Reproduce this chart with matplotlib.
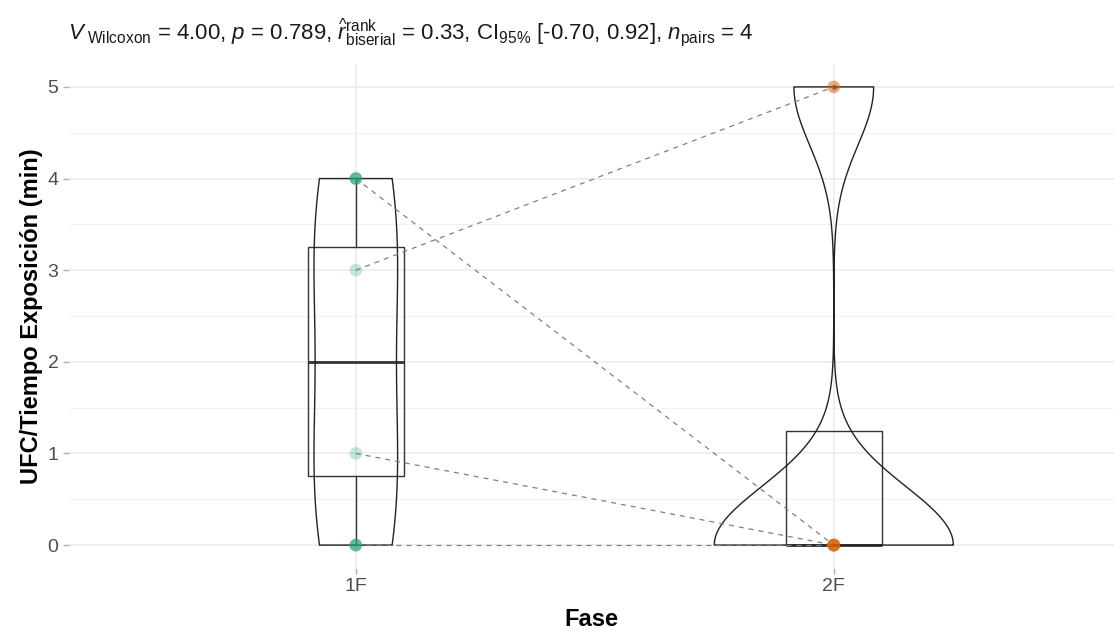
import numpy as np
import matplotlib
matplotlib.use("Agg")
import matplotlib.pyplot as plt

plt.rcParams['font.family'] = ['Liberation Sans', 'DejaVu Sans']
plt.rcParams['mathtext.fontset'] = 'custom'
plt.rcParams['mathtext.rm'] = 'Liberation Sans'
plt.rcParams['mathtext.it'] = 'Liberation Sans:italic'
plt.rcParams['mathtext.bf'] = 'Liberation Sans:bold'

# data (paired by position)
phases = ["1F", "2F"]
fase_1f = [4, 3, 1, 0]
fase_2f = [0, 5, 0, 0]
point_alpha_1f = [0.7, 0.25, 0.25, 0.7]
colors = ["#1B9E77", "#D95F02"]

title = (r"$\mathit{V}_{\ \mathrm{Wilcoxon}}$ = 4.00, $\mathit{p}$ = 0.789, "
         r"$\widehat{\mathit{r}}_{\mathrm{biserial}}^{\mathrm{rank}}$ = 0.33, "
         r"CI$_{95\%}$ [-0.70, 0.92], $\mathit{n}_{\mathrm{pairs}}$ = 4")


def kde_nrd0(vals, grid):
    v = np.asarray(vals, float)
    n = len(v)
    q1, q3 = np.percentile(v, [25, 75])
    bw = 0.9 * min(v.std(ddof=1), (q3 - q1) / 1.34) * n ** -0.2
    z = (grid[:, None] - v[None, :]) / bw
    return np.exp(-0.5 * z ** 2).sum(axis=1) / (n * bw * np.sqrt(2 * np.pi))


fig = plt.figure(figsize=(11.14, 6.37), dpi=100)
ax = fig.add_axes([69 / 1114, 1 - 568 / 637, 1 - 69 / 1114, (568 - 64) / 637])

groups = [fase_1f, fase_2f]
xs = [1, 2]

# grid
for y in np.arange(0, 5.01, 1):
    ax.axhline(y, color="#EBEBEB", lw=1.1, zorder=0)
for y in np.arange(0.5, 5, 1):
    ax.axhline(y, color="#F2F2F2", lw=0.8, zorder=0)
for x in xs:
    ax.axvline(x, color="#EBEBEB", lw=1.1, zorder=0)

# boxplots
bp = ax.boxplot(groups, positions=xs, widths=0.2, whis=1.5, showcaps=False,
                patch_artist=True, manage_ticks=False,
                boxprops=dict(facecolor="none", edgecolor="#333333", lw=1.0),
                whiskerprops=dict(color="#333333", lw=1.0),
                medianprops=dict(color="#333333", lw=2.0),
                flierprops=dict(marker="o", markersize=4, markerfacecolor="#555555",
                                markeredgecolor="none", alpha=0.8))

# violins (scale = area, width 0.5)
dens = []
for g in groups:
    grid = np.linspace(min(g), max(g), 512)
    dens.append((grid, kde_nrd0(g, grid)))
dmax = max(d.max() for _, d in dens)
for x, (grid, d) in zip(xs, dens):
    hw = 0.25 * d / dmax
    vx = np.concatenate([x - hw, (x + hw)[::-1]])
    vy = np.concatenate([grid, grid[::-1]])
    ax.fill(vx, vy, facecolor="none", edgecolor="#222222", lw=1.0, zorder=3)

# paired lines
for a, b in zip(fase_1f, fase_2f):
    ax.plot([1, 2], [a, b], ls=(0, (4, 4)), color="#808080", lw=0.9, zorder=4)

# points
for y, al in zip(fase_1f, point_alpha_1f):
    ax.scatter(1, y, s=85, color=colors[0], alpha=al, edgecolor="none", zorder=5)
for y in fase_2f:
    ax.scatter(2, y, s=85, color=colors[1], alpha=0.5, edgecolor="none", zorder=5)

ax.set_xlim(0.4, 0.4 + (1114 - 69) / 478)
ax.set_ylim(-0.25, 5.25)
ax.set_xticks(xs)
ax.set_xticklabels(phases)
ax.set_yticks(range(6))
for s in ax.spines.values():
    s.set_visible(False)
ax.tick_params(axis="both", colors="#B0B0B0", length=4, width=1,
               labelsize=14, labelcolor="#4D4D4D")
ax.set_xlabel("Fase", fontsize=17, fontweight="bold", labelpad=9)
ax.set_ylabel("UFC/Tiempo Exposición (min)", fontsize=17, fontweight="bold", labelpad=3)

fig.text(68 / 1114, 1 - 32 / 637, title, fontsize=16, ha="left", va="center",
         color="#1A1A1A")

fig.savefig("out.png", dpi=100)
